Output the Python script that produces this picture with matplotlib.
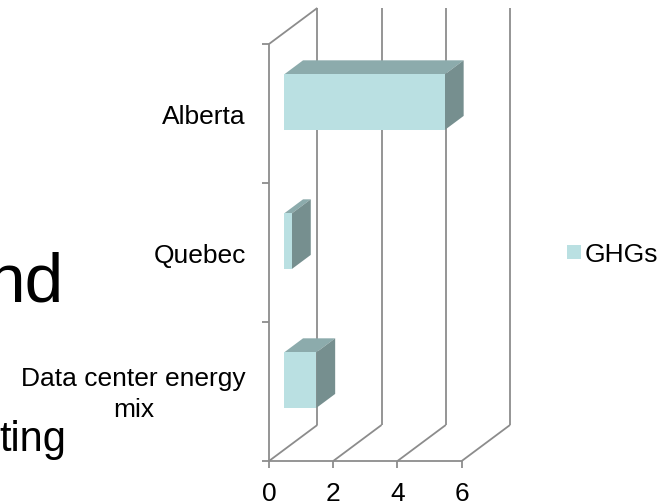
import matplotlib
matplotlib.use("Agg")
import matplotlib.pyplot as plt
from matplotlib.patches import Polygon, Rectangle

plt.rcParams['font.family'] = ['Liberation Sans', 'DejaVu Sans']

# ---- data -------------------------------------------------------------
categories = ["Data center energy\nmix", "Quebec", "Alberta"]
ghgs = [1.0, 0.24, 5.0]
x_ticks = [0, 2, 4, 6]
series_name = "GHGs"

# ---- styling ------------------------------------------------------------
FRONT = "#BAE0E2"
TOP = "#8CABAC"
SIDE = "#768F8F"
GRID = "#8C8C8C"
FS = 19

W, H = 661, 504
fig = plt.figure(figsize=(W / 100, H / 100), dpi=100)
ax = fig.add_axes([0, 0, 1, 1])
ax.set_axis_off()

# front plane scale (pixels per value unit / per category) and origin
px_per_val = 32.12
px_per_cat = 139.0
x0_px, y0_px = 269.0, 461.0
ax.set_xlim(-x0_px / px_per_val, (W - x0_px) / px_per_val)
ax.set_ylim((y0_px - H) / px_per_cat, y0_px / px_per_cat)

# oblique depth of the 3-D box, in data units
depth_dx = 48.3 / px_per_val
depth_dy = 36.0 / px_per_cat


def proj(v, c, d):
    """Project (value, category, depth fraction) onto the 2-D axes."""
    return (v + d * depth_dx, c + d * depth_dy)


def line(p, q, **kw):
    ax.plot([p[0], q[0]], [p[1], q[1]], color=GRID, lw=1.3,
            solid_capstyle="butt", zorder=1, **kw)


n_cat = len(categories)
vmax = x_ticks[-1]

# back wall verticals and floor diagonals
for v in x_ticks:
    line(proj(v, 0, 1), proj(v, n_cat, 1))
    line(proj(v, 0, 0), proj(v, 0, 1))

# left wall: front edge and top edge
line(proj(0, 0, 0), proj(0, n_cat, 0))
line(proj(0, n_cat, 0), proj(0, n_cat, 1))
# front value axis
line(proj(0, 0, 0), proj(vmax, 0, 0))

# tick marks
tick_v = 7.0 / px_per_val
tick_c = 7.0 / px_per_cat
for v in x_ticks:
    line((v, 0), (v, -tick_c))
for c in range(n_cat + 1):
    line((0, c), (-tick_v, c))

# 3-D bars
gap = 0.3          # bar occupies 0.3..0.7 of each category band
d0, d1 = 0.315, 0.705
for i, val in enumerate(ghgs):
    c0, c1 = i + gap, i + 1 - gap
    top = [proj(0, c1, d0), proj(val, c1, d0), proj(val, c1, d1), proj(0, c1, d1)]
    side = [proj(val, c0, d0), proj(val, c0, d1), proj(val, c1, d1), proj(val, c1, d0)]
    front = [proj(0, c0, d0), proj(val, c0, d0), proj(val, c1, d0), proj(0, c1, d0)]
    ax.add_patch(Polygon(top, closed=True, facecolor=TOP, edgecolor="none", zorder=3))
    ax.add_patch(Polygon(side, closed=True, facecolor=SIDE, edgecolor="none", zorder=3))
    ax.add_patch(Polygon(front, closed=True, facecolor=FRONT, edgecolor="none", zorder=4))

# category labels
lab_v = -23.3 / px_per_val
for i, name in enumerate(categories):
    ax.text(lab_v, i + 0.5 - 3.0 / px_per_cat, name, ha="right", va="center",
            multialignment="center", fontsize=FS, linespacing=1.37, color="black")

# value tick labels
for v in x_ticks:
    ax.text(v, (y0_px - 501.0) / px_per_cat, str(v), ha="center", va="baseline",
            fontsize=FS, color="black")


# legend (drawn in pixel positions of the figure)
def fx(px):
    return px / W


def fy(py):
    return 1 - py / H


fig.patches.append(Rectangle((fx(566.7), fy(259.0)), 14.0 / W, 14.0 / H,
                             transform=fig.transFigure, facecolor=FRONT,
                             edgecolor="none"))
fig.text(fx(585.0), fy(261.7), series_name, ha="left", va="baseline",
         fontsize=FS, color="black")

# overlapping slide text on the left
fig.text(fx(-14.0), fy(301.7), "nd", ha="left", va="baseline", fontsize=50,
         color="black")
fig.text(fx(-1.0), fy(450.7), "ting", ha="left", va="baseline", fontsize=30,
         color="black")

fig.savefig("out.png", dpi=100)
